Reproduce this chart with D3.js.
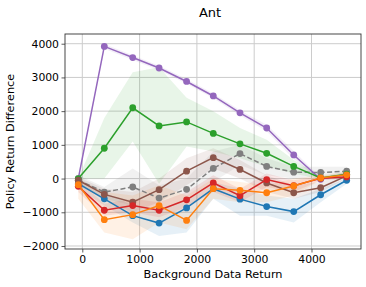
<!DOCTYPE html>
<html>
<head>
<meta charset="utf-8">
<script src="https://cdn.jsdelivr.net/npm/d3@7"></script>
<style>
    body { margin: 0; background: #fff; }
    #chart { width: 366px; height: 287px; }
    text { font-family: 'DejaVu Sans', sans-serif; fill: #000; }
</style>
</head>
<body>
<div id="chart"></div>
<script>
// data
const returns = [-70, 384, 880, 1340, 1820, 2286, 2752, 3218, 3690, 4160, 4614];
const xTicks = [0, 1000, 2000, 3000, 4000];
const yTicks = [-2000, -1000, 0, 1000, 2000, 3000, 4000];

const grayMean = [-50, -400, -250, -580, -320, 300, 740, 360, 190, 180, 220];
const grayLow = [-200, -600, -800, -900, -600, -100, 400, 100, 0, 50, 100];
const grayHigh = [100, -250, 300, -200, 0, 800, 1000, 600, 350, 350, 350];

const purpleMean = [0, 3920, 3590, 3280, 2880, 2450, 1950, 1500, 700, -20, 130];
const purpleLow = [-50, 3850, 3520, 3210, 2810, 2380, 1870, 1400, 580, -70, 80];
const purpleHigh = [50, 3990, 3660, 3350, 2950, 2520, 2030, 1600, 820, 30, 180];

const greenMean = [0, 900, 2100, 1560, 1680, 1340, 1030, 750, 360, 20, 130];
const greenLow = [0, 0, 1100, -150, 950, 800, 600, 350, 150, -20, 60];
const greenHigh = [0, 1800, 3150, 3300, 2400, 2000, 1500, 1150, 550, 60, 200];

const blueMean = [-150, -600, -1100, -1320, -870, -300, -610, -830, -980, -480, -50];
const blueLow = [-300, -800, -1300, -1700, -1600, -600, -1100, -1100, -1300, -700, -150];
const blueHigh = [0, -400, -800, -900, -600, -100, -300, -500, -600, -300, 0];

const brownMean = [-50, -470, -700, -330, 220, 620, 270, -130, -420, -270, 80];
const brownLow = [-150, -650, -1000, -700, -200, 300, 0, -400, -600, -400, 0];
const brownHigh = [50, -300, -400, 0, 600, 900, 550, 100, -200, -100, 200];

const redMean = [-230, -940, -800, -940, -630, -130, -510, -30, -210, 10, 50];
const redLow = [-400, -1100, -1000, -1150, -850, -400, -700, -250, -400, -50, 0];
const redHigh = [-50, -750, -600, -700, -400, 100, -300, 150, -50, 70, 100];

const orangeMean = [-180, -1220, -1070, -800, -1240, -300, -350, -420, -220, 20, 110];
const orangeLow = [-600, -1600, -1800, -1300, -1500, -600, -700, -700, -500, -50, 50];
const orangeHigh = [0, -400, -500, -200, -500, 0, -100, -200, 0, 100, 200];

const series = [
    { color: '#7f7f7f', dashed: true, mean: grayMean, low: grayLow, high: grayHigh },
    { color: '#9467bd', mean: purpleMean, low: purpleLow, high: purpleHigh },
    { color: '#2ca02c', mean: greenMean, low: greenLow, high: greenHigh },
    { color: '#1f77b4', mean: blueMean, low: blueLow, high: blueHigh },
    { color: '#8c564b', mean: brownMean, low: brownLow, high: brownHigh },
    { color: '#d62728', mean: redMean, low: redLow, high: redHigh },
    { color: '#ff7f0e', mean: orangeMean, low: orangeLow, high: orangeHigh }
];

// size
const width = 366;
const height = 287;
const margin = { top: 34, right: 5, bottom: 38, left: 65 };

// scale
const xScale = d3.scaleLinear()
    .domain([-302, 4864])
    .range([margin.left, width - margin.right]);

const yScale = d3.scaleLinear()
    .domain([-2089, 4288])
    .range([height - margin.bottom, margin.top]);

// svg
const svg = d3.select('#chart')
    .append('svg')
    .attr('width', width)
    .attr('height', height);

// grid
svg.append('g')
    .selectAll('line')
    .data(xTicks)
    .join('line')
    .attr('x1', d => xScale(d))
    .attr('x2', d => xScale(d))
    .attr('y1', margin.top)
    .attr('y2', height - margin.bottom)
    .attr('stroke', '#cccccc')
    .attr('stroke-width', 1);

svg.append('g')
    .selectAll('line')
    .data(yTicks)
    .join('line')
    .attr('y1', d => yScale(d))
    .attr('y2', d => yScale(d))
    .attr('x1', margin.left)
    .attr('x2', width - margin.right)
    .attr('stroke', '#cccccc')
    .attr('stroke-width', 1);

// bands
const area = d3.area()
    .x((d, i) => xScale(returns[i]))
    .y0(d => yScale(d[0]))
    .y1(d => yScale(d[1]));

series.forEach(s => {
    svg.append('path')
        .attr('fill', s.color)
        .attr('fill-opacity', 0.11)
        .attr('stroke', 'none')
        .attr('d', area(s.low.map((v, i) => [v, s.high[i]])));
});

// lines and points
const line = d3.line()
    .x((d, i) => xScale(returns[i]))
    .y(d => yScale(d));

series.forEach(s => {
    svg.append('path')
        .attr('fill', 'none')
        .attr('stroke', s.color)
        .attr('stroke-width', 1.5)
        .attr('stroke-dasharray', s.dashed ? '5,2.5' : null)
        .attr('d', line(s.mean));

    svg.append('g')
        .selectAll('circle')
        .data(s.mean)
        .join('circle')
        .attr('cx', (d, i) => xScale(returns[i]))
        .attr('cy', d => yScale(d))
        .attr('r', 3.4)
        .attr('fill', s.color);
});

// frame
svg.append('rect')
    .attr('x', margin.left)
    .attr('y', margin.top)
    .attr('width', width - margin.left - margin.right)
    .attr('height', height - margin.top - margin.bottom)
    .attr('fill', 'none')
    .attr('stroke', '#333')
    .attr('stroke-width', 0.9);

// x axis
const xAxis = svg.append('g')
    .attr('transform', `translate(0,${height - margin.bottom})`)
    .call(d3.axisBottom(xScale).tickValues(xTicks).tickSize(3.5).tickPadding(2.5).tickFormat(d3.format('d')));

// y axis
const yAxis = svg.append('g')
    .attr('transform', `translate(${margin.left},0)`)
    .call(d3.axisLeft(yScale).tickValues(yTicks).tickSize(3.5).tickPadding(2.5)
        .tickFormat(d => d < 0 ? '\u2212' + Math.abs(d) : d));

[xAxis, yAxis].forEach(a => {
    a.select('.domain').remove();
    a.selectAll('.tick line').attr('stroke', '#333').attr('stroke-width', 0.8);
    a.selectAll('text')
        .style('font-size', '10.8px')
        .style('font-family', "'DejaVu Sans', sans-serif")
        .attr('fill', '#000');
});

// labels
svg.append('text')
    .attr('x', (margin.left + width - margin.right) / 2 - 3)
    .attr('y', 17)
    .style('text-anchor', 'middle')
    .style('font-size', '13px')
    .text('Ant');

svg.append('text')
    .attr('x', (margin.left + width - margin.right) / 2)
    .attr('y', 278)
    .style('text-anchor', 'middle')
    .style('font-size', '11.3px')
    .text('Background Data Return');

svg.append('text')
    .attr('transform', `translate(14,${(margin.top + height - margin.bottom) / 2}) rotate(-90)`)
    .style('text-anchor', 'middle')
    .style('font-size', '11.3px')
    .text('Policy Return Difference');
</script>
</body>
</html>
